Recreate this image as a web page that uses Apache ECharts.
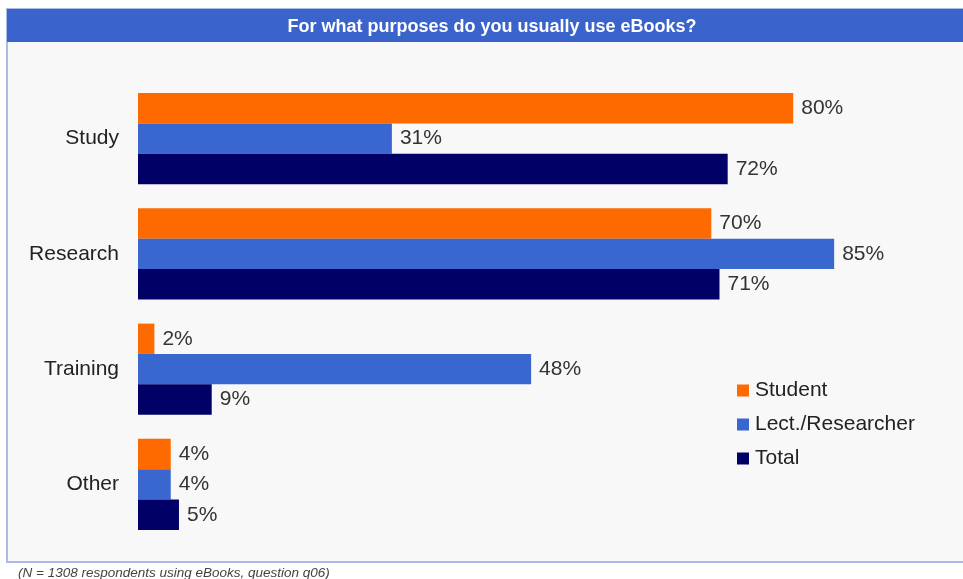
<!DOCTYPE html>
<html><head><meta charset="utf-8">
<script src="https://cdn.jsdelivr.net/npm/echarts@6/dist/echarts.min.js"></script>
<style>html,body{margin:0;padding:0;background:#fff}#c{width:963px;height:579px}</style>
</head><body><div id="c"></div>
<script>
const categories = ['Study', 'Research', 'Training', 'Other'];
const seriesNames = ['Student', 'Lect./Researcher', 'Total'];
const student = [80, 70, 2, 4];
const lecturer = [31, 85, 48, 4];
const total = [72, 71, 9, 5];
const titleText = 'For what purposes do you usually use eBooks?';
const footnote = '(N = 1308 respondents using eBooks, question q06)';

const colors = ['#ff6a00', '#3a66d0', '#000066'];
const font = '"Liberation Sans", Arial, sans-serif';
const chart = echarts.init(document.getElementById('c'));
const mk = (name, data, i) => ({
  name, type: 'bar', data,
  barGap: '0%', barCategoryGap: '21%',
  itemStyle: { color: colors[i] },
  label: { show: true, position: 'right', distance: 8, formatter: '{c}%', color: '#333', fontSize: 21, fontFamily: font },
  emphasis: { disabled: true }
});
chart.setOption({
  animation: false,
  backgroundColor: '#fff',
  graphic: [
    { type: 'rect', shape: { x: 7, y: 9, width: 962, height: 553 }, style: { fill: '#f8f8f8', stroke: '#aabbe6', lineWidth: 2 }, z: -10 },
    { type: 'rect', shape: { x: 7, y: 9, width: 962, height: 33 }, style: { fill: '#3a63cc' }, z: -9 },
    { type: 'text', x: 492, y: 27, style: { text: titleText, fill: '#fff', font: 'bold 18px ' + font, textAlign: 'center', textVerticalAlign: 'middle' } },
    { type: 'text', x: 18, y: 573, style: { text: footnote, fill: '#444', font: 'italic 13.5px ' + font, textAlign: 'left', textVerticalAlign: 'middle' } }
  ],
  grid: { left: 138, right: 6, top: 81, height: 461, containLabel: false },
  xAxis: { type: 'value', min: 0, max: 100, show: false },
  yAxis: {
    type: 'category', data: categories, inverse: true,
    axisLine: { show: false }, axisTick: { show: false },
    axisLabel: { color: '#222', fontSize: 21, fontFamily: font, margin: 19 }
  },
  legend: {
    orient: 'vertical', left: 732, top: 375, itemWidth: 12, itemHeight: 12, itemGap: 13,
    icon: 'rect', data: seriesNames,
    textStyle: { color: '#222', fontSize: 21, fontFamily: font, padding: [0, 0, 0, 1] }
  },
  series: [mk(seriesNames[0], student, 0), mk(seriesNames[1], lecturer, 1), mk(seriesNames[2], total, 2)]
});
</script></body></html>
